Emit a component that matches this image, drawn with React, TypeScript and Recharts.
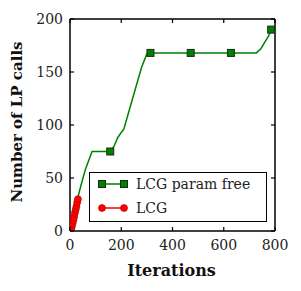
import { Line, LineChart, XAxis, YAxis } from "recharts";

const greenX = [0, 10, 20, 33, 45, 60, 86, 157, 172, 186, 200, 210, 230, 255, 280, 300, 314, 471, 628, 700, 727, 745, 765, 775, 785];
const greenY = [0, 10, 21, 34, 45, 58, 75, 75, 80, 88, 93, 96, 113, 134, 155, 167, 168, 168, 168, 168, 168, 172, 180, 184, 190];
const greenMarks = [0, 157, 314, 471, 628, 785];

const redX = [4, 7, 10, 13, 16, 19, 22, 25, 28, 31];
const redY = [1, 4, 7, 10, 13, 17, 20, 23, 27, 30];

const xTicks = [0, 200, 400, 600, 800];
const yTicks = [0, 50, 100, 150, 200];

const greenData = greenX.map((x, i) => ({ x, y: greenY[i], m: greenMarks.includes(x) }));
const redData = redX.map((x, i) => ({ x, y: redY[i] }));

const GREEN = "#008000";
const RED = "#ff0000";
const FONT = "'DejaVu Serif', 'Liberation Serif', serif";

function BottomTick(p: any) {
  return (
    <g>
      <line x1={p.x} x2={p.x} y1={p.y} y2={p.y - 4} stroke="#000" strokeWidth={1.2} />
      <text x={p.x} y={p.y + 14} textAnchor="middle" dominantBaseline="central" fontFamily={FONT} fontSize={14} fill="#222">
        {p.payload.value}
      </text>
    </g>
  );
}

function LeftTick(p: any) {
  return (
    <g>
      <line x1={p.x} x2={p.x + 4} y1={p.y} y2={p.y} stroke="#000" strokeWidth={1.2} />
      <text x={p.x - 7} y={p.y} textAnchor="end" dominantBaseline="central" fontFamily={FONT} fontSize={14} fill="#222">
        {p.payload.value}
      </text>
    </g>
  );
}

function TopTick(p: any) {
  return <line x1={p.x} x2={p.x} y1={p.y} y2={p.y + 4} stroke="#000" strokeWidth={1.2} />;
}

function RightTick(p: any) {
  return <line x1={p.x} x2={p.x - 4} y1={p.y} y2={p.y} stroke="#000" strokeWidth={1.2} />;
}

function GreenDot(p: any) {
  if (!p.payload.m) return <g key={p.index} />;
  return <rect key={p.index} x={p.cx - 3.5} y={p.cy - 3.5} width={7} height={7} fill={GREEN} stroke="#1a2a1a" strokeWidth={1} />;
}

function RedDot(p: any) {
  return <circle key={p.index} cx={p.cx} cy={p.cy} r={3.5} fill={RED} stroke="#a00" strokeWidth={0.6} />;
}

function YLabel(p: any) {
  const vb = p.viewBox;
  const cy = vb.y + vb.height / 2 - 3;
  return (
    <text x={17} y={cy} transform={`rotate(-90 17 ${cy})`} textAnchor="middle" dominantBaseline="central" fontFamily={FONT} fontSize={15} fontWeight={600} fill="#111">
      Number of LP calls
    </text>
  );
}

function XLabel(p: any) {
  const vb = p.viewBox;
  return (
    <text x={vb.x + vb.width / 2 - 1} y={270} textAnchor="middle" dominantBaseline="central" fontFamily={FONT} fontSize={16} fontWeight={600} fill="#111">
      Iterations
    </text>
  );
}

const legendRows = [
  { name: "LCG param free", color: GREEN, square: true },
  { name: "LCG", color: RED, square: false },
];

function LegendBox() {
  return (
    <div style={{ position: "absolute", left: 89, top: 172, width: 178, height: 50, border: "1.5px solid #000", boxSizing: "border-box", background: "#fff" }}>
      {legendRows.map((r, i) => (
        <div key={r.name} style={{ position: "absolute", left: 0, top: 1 + i * 24, height: 20, display: "flex", alignItems: "center" }}>
          <svg width={44} height={20} style={{ display: "block" }}>
            <line x1={12} x2={34} y1={10} y2={10} stroke={r.color} strokeWidth={1.5} />
            {r.square ? (
              <>
                <rect x={8.5} y={6.5} width={7} height={7} fill={GREEN} stroke="#1a2a1a" />
                <rect x={30.5} y={6.5} width={7} height={7} fill={GREEN} stroke="#1a2a1a" />
              </>
            ) : (
              <>
                <circle cx={12} cy={10} r={3.5} fill={RED} stroke="#a00" strokeWidth={0.6} />
                <circle cx={34} cy={10} r={3.5} fill={RED} stroke="#a00" strokeWidth={0.6} />
              </>
            )}
          </svg>
          <span style={{ fontFamily: FONT, fontSize: 14, color: "#222", marginLeft: 2, whiteSpace: "nowrap" }}>{r.name}</span>
        </div>
      ))}
    </div>
  );
}

export default function App() {
  return (
    <div style={{ position: "absolute", left: 0, top: 0, width: 301, height: 291, background: "#fff" }}>
      <LineChart width={301} height={291} margin={{ top: 18, right: 25, left: 20, bottom: 30 }}>
        <XAxis
          type="number"
          dataKey="x"
          domain={[0, 800]}
          ticks={xTicks}
          tickSize={0}
          tickMargin={0}
          tick={<BottomTick />}
          axisLine={{ stroke: "#000", strokeWidth: 1.5 }}
          tickLine={false}
          height={30}
          allowDataOverflow
          label={<XLabel />}
        />
        <XAxis
          xAxisId="top"
          orientation="top"
          type="number"
          dataKey="x"
          domain={[0, 800]}
          ticks={xTicks}
          tickSize={0}
          tickMargin={0}
          tick={<TopTick />}
          axisLine={{ stroke: "#000", strokeWidth: 1.5 }}
          tickLine={false}
          height={1}
          allowDataOverflow
        />
        <YAxis
          type="number"
          dataKey="y"
          domain={[0, 200]}
          ticks={yTicks}
          tickSize={0}
          tickMargin={0}
          tick={<LeftTick />}
          axisLine={{ stroke: "#000", strokeWidth: 1.5 }}
          tickLine={false}
          width={50}
          allowDataOverflow
          label={<YLabel />}
        />
        <YAxis
          yAxisId="right"
          orientation="right"
          type="number"
          dataKey="y"
          domain={[0, 200]}
          ticks={yTicks}
          tickSize={0}
          tickMargin={0}
          tick={<RightTick />}
          axisLine={{ stroke: "#000", strokeWidth: 1.5 }}
          tickLine={false}
          width={1}
          allowDataOverflow
        />
        <Line
          data={greenData}
          dataKey="y"
          type="linear"
          stroke={GREEN}
          strokeWidth={1.5}
          dot={GreenDot}
          activeDot={false}
          isAnimationActive={false}
        />
        <Line
          data={redData}
          dataKey="y"
          type="linear"
          stroke={RED}
          strokeWidth={1.5}
          dot={RedDot}
          activeDot={false}
          isAnimationActive={false}
        />
      </LineChart>
      <LegendBox />
    </div>
  );
}
